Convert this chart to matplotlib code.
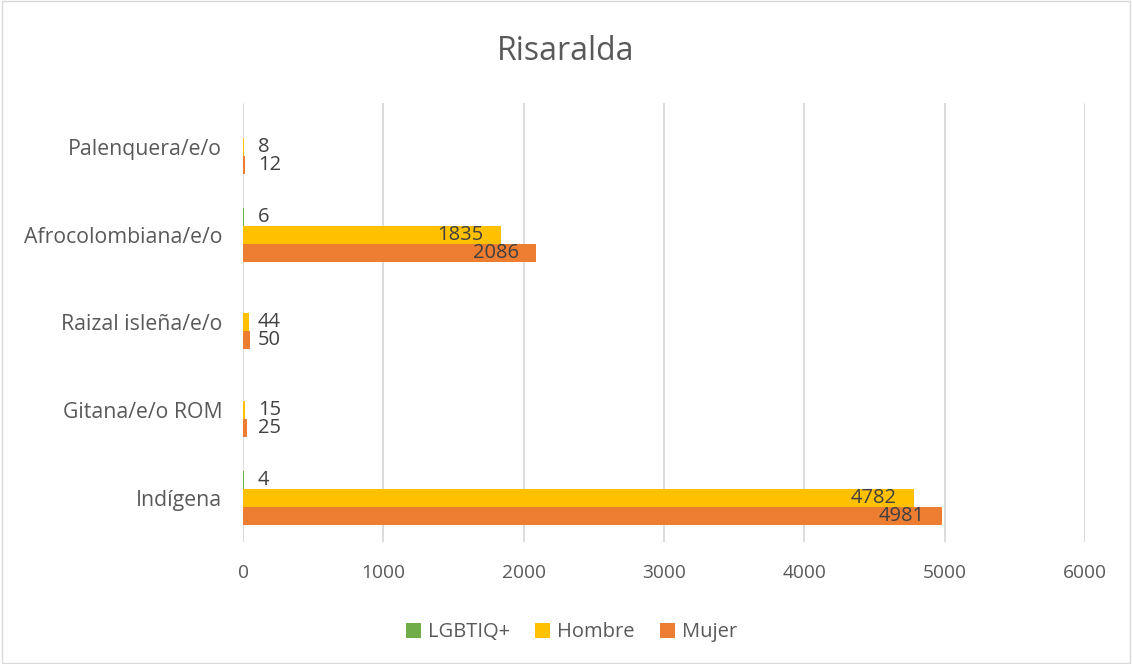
import numpy as np
import matplotlib.pyplot as plt
from matplotlib.patches import Rectangle
from matplotlib.transforms import offset_copy

# categories bottom to top, as in the chart
categorias = ["Indígena", "Gitana/e/o ROM", "Raizal isleña/e/o",
              "Afrocolombiana/e/o", "Palenquera/e/o"]
lgbtiq = [4, 0, 0, 6, 0]
hombre = [4782, 15, 44, 1835, 8]
mujer = [4981, 25, 50, 2086, 12]

series = ["LGBTIQ+", "Hombre", "Mujer"]
colores = ["#70AD47", "#FFC000", "#ED7D31"]

plt.rcParams['font.family'] = ['Open Sans', 'DejaVu Sans']

fig = plt.figure(figsize=(11.32, 6.64), dpi=100)
ax = fig.add_axes([0.2147, 0.1837, 0.7438, 0.6613])

y = np.arange(len(categorias))
h = 0.205
datos = [lgbtiq, hombre, mujer]
offsets = [h, 0, -h]

for vals, off, col, name in zip(datos, offsets, colores, series):
    ax.barh(y + off, vals, height=h, color=col, label=name, zorder=3)
    for yi, v in zip(y, vals):
        if v == 0:
            continue
        if v > 1000:
            # long bars: label inside the end
            tr = offset_copy(ax.transData, fig=fig, x=-17, y=0, units='dots')
            ax.text(v, yi + off, str(v), transform=tr, ha='right', va='center',
                    fontsize=14.5, color='#404040', zorder=4)
        else:
            tr = offset_copy(ax.transData, fig=fig, x=15, y=0, units='dots')
            ax.text(0, yi + off, str(v), transform=tr, ha='left', va='center',
                    fontsize=14.5, color='#404040', zorder=4)

ax.set_xlim(0, 6000)
ax.set_ylim(-0.5, len(categorias) - 0.5)
ax.set_xticks(np.arange(0, 6001, 1000))
ax.set_yticks(y)
ax.set_yticklabels(categorias, fontsize=15.3)
ax.tick_params(axis='both', length=0, colors='#595959')
ax.tick_params(axis='x', pad=16, labelsize=13.8)
ax.tick_params(axis='y', pad=15)
ax.grid(axis='x', color='#D9D9D9', linewidth=1.3, zorder=0)
for s in ax.spines.values():
    s.set_visible(False)

fig.suptitle("Risaralda", y=0.948, va='top', fontsize=23, color='#595959')

ax.legend(loc='lower center', bbox_to_anchor=(0.39, -0.27), ncol=3,
          frameon=False, fontsize=14.5, labelcolor='#595959',
          handlelength=0.75, handleheight=0.75, handletextpad=0.35,
          columnspacing=1.25)

fig.patches.append(Rectangle((0.002, 0.002), 0.996, 0.996,
                             transform=fig.transFigure, fill=False,
                             edgecolor='#D9D9D9', linewidth=1))

fig.savefig("out.png", dpi=100)
